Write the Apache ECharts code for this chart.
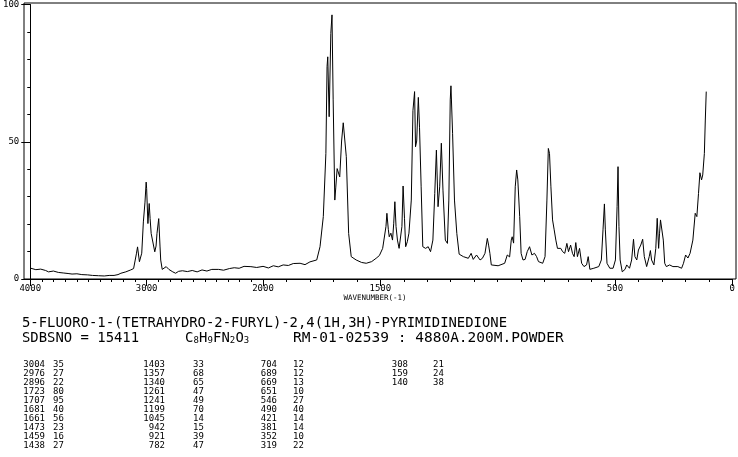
<!DOCTYPE html>
<html><head><meta charset="utf-8">
<script src="https://cdn.jsdelivr.net/npm/echarts@6/dist/echarts.min.js"></script>
<style>html,body{margin:0;padding:0;background:#fff}#c{width:738px;height:457px}</style>
</head><body><div id="c"></div>
<script>
// Spectrum (wavenumber cm-1, relative intensity)
const wavenumbers = [3994,3952,3910,3868,3843,3801,3759,3717,3675,3641,3599,3557,3507,3465,3414,3364,3322,3280,3246,3221,3179,3137,3112,3095,3087,3078,3070,3062,3049,3042,3028,3014,3004,3000,2989,2978,2970,2961,2944,2930,2919,2911,2896,2885,2879,2866,2852,2832,2809,2775,2751,2725,2692,2650,2608,2566,2524,2482,2440,2381,2339,2289,2247,2205,2163,2104,2054,2000,
1977,1956,1935,1914,1892,1871,1842,1821,1800,1771,1757,1743,1732,1727,1724,1718,1711,1706,1701,1694,1690,1684,1673,1665,1658,1645,1635,1624,1603,1580,1560,1537,1518,1504,1490,1476,1472,1466,1462,1455,1448,1443,1438,1433,1427,1420,1408,1403,1397,1392,1385,1378,1368,1361,1354,1350,1345,1338,1333,1326,1319,1307,1296,1286,1276,1268,1261,1254,1247,1240,1233,1223,1214,1208,1202,1199,1192,1184,1174,1164,1146,1125,1113,1104,1090,1075,1065,1054,1044,1038,1033,1027,1019,998,970,959,949,942,938,932,925,919,914,906,900,892,883,874,864,854,843,834,826,808,798,790,784,779,773,766,759,752,745,738,731,723,714,705,698,689,681,674,667,660,651,642,632,621,614,607,590,569,558,551,545,541,534,522,508,498,491,487,483,478,469,457,450,438,429,421,415,407,400,390,382,375,365,354,349,344,334,326,320,314,310,306,294,288,281,267,253,232,216,208,199,189,180,168,158,151,144,138,131,126,119,115,111];
const intensities = [3.9,3.4,3.6,3.1,2.6,2.9,2.4,2.2,2.0,1.8,1.9,1.6,1.5,1.3,1.2,1.1,1.3,1.3,1.6,2.1,2.6,3.3,3.8,4.5,9.4,11.7,11.0,6.3,6.5,9.4,20.8,28,35.3,33,20.2,27.5,22,16.6,16.6,9.9,12,16.6,22,12,6.9,3.5,4.2,4.5,3.5,2.6,2.1,2.8,3.0,2.7,3.1,2.6,3.3,2.9,3.5,3.5,3.2,3.8,4.1,3.9,4.6,4.5,4.2,4.6,
4.0,4.8,4.4,5.1,4.9,5.6,5.7,5.2,6.2,6.9,11.7,22.6,45.5,77,80.5,58.8,89,95.7,64.9,28.6,33,40,37,50,56.6,44.3,16.5,8.1,6.9,6.0,5.7,6.3,7.5,8.5,11.1,19,23.8,18,15.3,16.6,14.1,20,28,19,14.1,11.1,19,33.7,22,11.7,13.5,16.6,28.6,61,67.9,47.9,50,65.8,55,33.4,11.7,11.1,11.7,9.9,14.1,31,46.7,26.2,33.4,49.2,32.2,14.1,12.9,28.6,64.9,70,52.8,28.6,16.5,9,8.1,7.5,9.3,7.1,8.7,6.9,7.5,9.3,14.7,12,9.3,5.1,5.1,4.8,5.7,8.7,8.0,14.1,15.3,13,33.4,39.5,35.9,22.6,9.3,6.9,7.1,9.9,11.7,8.7,9.3,8.1,6.3,5.7,8.1,28.6,47.3,45.5,33.4,21.4,17.8,14.1,11.1,10.5,11.1,9.9,9.3,12.9,9.9,12.3,9.3,8.1,13.2,8.1,11.1,5.7,4.5,5.1,8.1,3.5,3.9,4.5,6.9,17.8,27.2,17.8,5.7,3.9,3.9,6.9,26.2,40.7,19,6.9,2.6,3.5,5.1,3.9,6.9,14.4,8.1,6.9,10.5,12.3,14.4,8.1,4.5,8.1,10.3,6.9,5.1,11.1,22,11.1,16.6,21.4,14.1,5.7,4.5,5.1,4.5,4.5,3.9,5.7,8.7,7.6,9.3,14.1,23.8,22.6,31,38.5,35.9,37.7,45.5,57.6,67.9];

const xLabelsHigh = [4000, 3000];
const xLabelsLow = [2000, 1500, 500, 0];
const yLabels = [0, 50, 100];
const xAxisName = 'WAVENUMBER(-1)';

const compoundName = '5-FLUORO-1-(TETRAHYDRO-2-FURYL)-2,4(1H,3H)-PYRIMIDINEDIONE';
const sdbsNo = 'SDBSNO = 15411';
const formulaTokens = [['C',0],['8',1],['H',0],['9',1],['F',0],['N',0],['2',1],['O',0],['3',1]];
const measurement = 'RM-01-02539 : 4880A.200M.POWDER';

const peakWavenumbers = [3004,2976,2896,1723,1707,1681,1661,1473,1459,1438,1403,1357,1340,1261,1241,1199,1045,942,921,782,704,689,669,651,546,490,421,381,352,319,308,159,140];
const peakIntensities = [35,27,22,80,95,40,56,23,16,27,33,68,65,47,49,70,14,15,39,47,12,12,13,10,27,40,14,14,10,22,21,24,38];

const MONO = '"DejaVu Sans Mono", "Liberation Mono", monospace';
const BLACK = '#000';

const highData = [], lowData = [];
wavenumbers.forEach((w, i) => {
  if (w >= 2000) highData.push([w, intensities[i]]);
  if (w <= 2000) lowData.push([w, intensities[i]]);
});

const labStyle = {color: BLACK, fontFamily: MONO, fontSize: 9};

function minorX(grid, min, max) {
  return {gridIndex: grid, type: 'value', min, max, inverse: true, interval: 100, position: 'bottom',
    axisLine: {show: true, lineStyle: {color: BLACK, width: 1}},
    axisTick: {show: true, length: 3, lineStyle: {color: BLACK, width: 1}},
    axisLabel: {show: false}, splitLine: {show: false}};
}
function majorX(grid, min, max, vals) {
  return {gridIndex: grid, type: 'value', min, max, inverse: true, position: 'bottom', offset: 0,
    axisLine: {show: false},
    axisTick: {show: true, length: 7, customValues: vals, lineStyle: {color: BLACK, width: 1}},
    axisLabel: Object.assign({show: true, customValues: vals, margin: 5, formatter: v => String(v)}, labStyle),
    splitLine: {show: false}};
}

const graphics = [];
function txt(x, y, text, size, align) {
  graphics.push({type: 'text', x, y, silent: true,
    style: {text, fill: BLACK, font: size + 'px ' + MONO, align: align || 'left', textAlign: align || 'left',
      verticalAlign: 'middle', textVerticalAlign: 'middle'}});
}
txt(375, 298, xAxisName, 7.5, 'center');
txt(22, 323, compoundName, 13.9);
txt(22, 338, sdbsNo, 13.9);
let fx = 185;
formulaTokens.forEach(([ch, sub]) => {
  if (sub) { txt(fx, 341, ch, 9); fx += 5.6; }
  else { txt(fx, 338, ch, 13.9); fx += 8.4; }
});
txt(293, 338, measurement, 14.5);
const wnRight = [45, 165, 277, 408];
const inLeft = [53, 193, 293, 433];
peakWavenumbers.forEach((w, i) => {
  const c = Math.floor(i / 10), r = i % 10;
  const y = 365 + 9 * r;
  txt(wnRight[c], y, String(w), 9, 'right');
  txt(inLeft[c], y, String(peakIntensities[i]), 9, 'left');
});

const chart = echarts.init(document.getElementById('c'), null, {renderer: 'canvas'});
chart.setOption({
  animation: false,
  backgroundColor: '#fff',
  grid: [
    {left: 24, top: 3, width: 239, height: 276, containLabel: false},
    {left: 263, top: 3, width: 473, height: 276, containLabel: false},
    {left: 24, top: 3, width: 712, height: 276, show: true, borderColor: BLACK, borderWidth: 1, backgroundColor: 'transparent'}
  ],
  xAxis: [
    minorX(0, 2000, 4000),
    majorX(0, 2000, 4000, xLabelsHigh),
    minorX(1, 0, 2000),
    majorX(1, 0, 2000, xLabelsLow),
    {gridIndex: 2, type: 'value', min: 0, max: 1, show: false}
  ],
  yAxis: [
    {gridIndex: 0, type: 'value', min: 0, max: 100, interval: 10, position: 'left',
      axisLine: {show: true, lineStyle: {color: BLACK, width: 1}},
      axisTick: {show: true, length: 3, lineStyle: {color: BLACK, width: 1}},
      axisLabel: {show: false}, splitLine: {show: false}},
    {gridIndex: 0, type: 'value', min: 0, max: 100, position: 'left', offset: 0,
      axisLine: {show: false},
      axisTick: {show: true, length: 9, customValues: yLabels, lineStyle: {color: BLACK, width: 1}},
      axisLabel: Object.assign({show: true, customValues: yLabels, margin: 11, formatter: v => String(v)}, labStyle),
      splitLine: {show: false}},
    {gridIndex: 1, type: 'value', min: 0, max: 100, show: false},
    {gridIndex: 2, type: 'value', min: 0, max: 1, show: false}
  ],
  series: [
    {type: 'line', xAxisIndex: 0, yAxisIndex: 0, data: highData, showSymbol: false, symbol: 'none',
      lineStyle: {color: BLACK, width: 1}, silent: true},
    {type: 'line', xAxisIndex: 2, yAxisIndex: 2, data: lowData, showSymbol: false, symbol: 'none',
      lineStyle: {color: BLACK, width: 1}, silent: true}
  ],
  graphic: graphics
});
</script>
</body></html>
